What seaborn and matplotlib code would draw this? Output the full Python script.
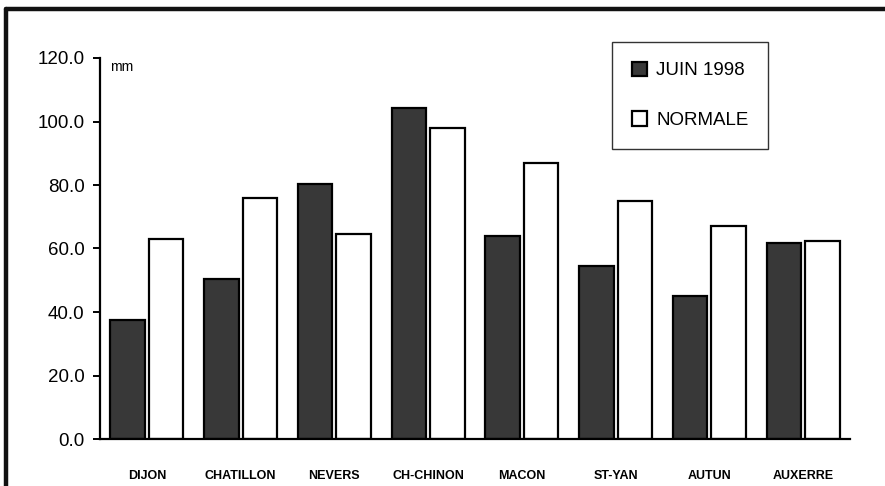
import matplotlib
matplotlib.use("Agg")
import matplotlib.pyplot as plt
from matplotlib.lines import Line2D
from matplotlib.ticker import FuncFormatter
import seaborn as sns
import pandas as pd

# Rainfall (mm) per station
stations = ["DIJON", "CHATILLON", "NEVERS", "CH-CHINON", "MACON", "ST-YAN", "AUTUN", "AUXERRE"]
juin_1998 = [37.5, 50.5, 80.2, 104.3, 64.0, 54.6, 44.9, 61.6]
normale = [62.9, 75.9, 64.6, 97.8, 86.8, 74.9, 67.1, 62.3]
series = ["JUIN 1998", "NORMALE"]
y_ticks = [0, 20, 40, 60, 80, 100, 120]

df = pd.DataFrame({
    "station": stations * 2,
    "serie": [series[0]] * len(stations) + [series[1]] * len(stations),
    "mm": juin_1998 + normale,
})

sns.set_theme(style="white")
plt.rcParams["font.family"] = ["Liberation Sans", "DejaVu Sans"]
plt.rcParams["text.color"] = "black"

fig = plt.figure(figsize=(8.85, 4.86), dpi=100)
ax = fig.add_axes([100 / 885, 1 - 439 / 486, 750 / 885, 381 / 486])

sns.barplot(
    data=df, x="station", y="mm", hue="serie", order=stations, hue_order=series,
    palette={series[0]: "#383838", series[1]: "white"},
    width=0.82, gap=0.1, edgecolor="black", linewidth=1.6, saturation=1, ax=ax,
)

ax.set_xlim(-0.5, len(stations) - 0.5)
ax.set_ylim(0, 120)
ax.set_yticks(y_ticks)
ax.yaxis.set_major_formatter(FuncFormatter(lambda v, p: f"{v:.1f}"))
ax.set_xlabel("")
ax.set_ylabel("")

for side in ("top", "right"):
    ax.spines[side].set_visible(False)
for side in ("left", "bottom"):
    ax.spines[side].set_color("black")
    ax.spines[side].set_linewidth(1.6)

ax.tick_params(axis="y", left=True, length=5, width=1.4, color="black", pad=6,
               labelsize=13.5, labelcolor="black")
ax.tick_params(axis="x", bottom=False, pad=16, labelsize=9, labelcolor="black")
for lbl in ax.get_xticklabels():
    lbl.set_fontweight("bold")

# unit label just right of the top of the value axis
ax.annotate("mm", xy=(110, 486 - 67), xycoords="figure pixels",
            fontsize=10, va="center", ha="left", color="black")

leg = ax.legend(
    loc="upper left", bbox_to_anchor=(612 / 885, 1 - 42 / 486), bbox_transform=fig.transFigure,
    frameon=True, fancybox=False, shadow=False, fontsize=13.5,
    handlelength=0.8, handleheight=0.8, handletextpad=0.5, labelspacing=1.7,
    borderpad=1.05, borderaxespad=0, title=None,
)
leg.get_frame().set_edgecolor("black")
leg.get_frame().set_linewidth(1.0)
for h in leg.legend_handles:
    h.set_linewidth(1.6)
    h.set_edgecolor("black")
for t in leg.get_texts():
    t.set_color("black")

# Heavy page frame along the top and left
fig.add_artist(Line2D([6 / 885, 1.0], [1 - 9 / 486, 1 - 9 / 486], transform=fig.transFigure,
                      color="#111111", linewidth=3.2))
fig.add_artist(Line2D([6 / 885, 6 / 885], [0.0, 1 - 9 / 486], transform=fig.transFigure,
                      color="#111111", linewidth=3.2))

fig.savefig("out.png", dpi=100)
